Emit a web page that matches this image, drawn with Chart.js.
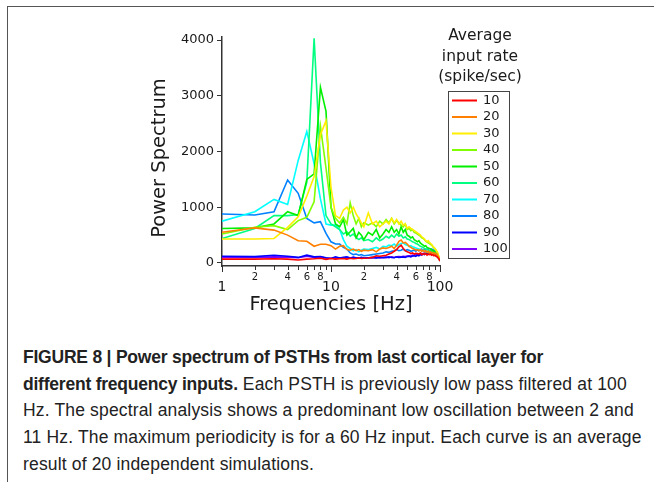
<!DOCTYPE html>
<html>
<head>
<meta charset="utf-8">
<script src="https://cdn.jsdelivr.net/npm/chart.js@4.4.0/dist/chart.umd.min.js"></script>
<style>
html, body { margin: 0; padding: 0; background: #fff; }
body { width: 654px; height: 482px; overflow: hidden; position: relative; }
#frame { position: absolute; left: 7px; top: 6px; right: -5px; bottom: -5px; border-left: 1px solid #555; border-top: 1px solid #555; }
#chart { position: absolute; left: 0; top: 0; }
#caption { position: absolute; left: 23px; top: 344px; font-family: "Liberation Sans", Arial, sans-serif; font-size: 17.5px; line-height: 26.7px; color: #222; white-space: nowrap; letter-spacing: 0.16px; }
#caption b { letter-spacing: -0.22px; }
</style>
</head>
<body>
<div id="frame"></div>
<canvas id="chart" width="654" height="330"></canvas>
<div id="caption">
<b>FIGURE 8 | Power spectrum of PSTHs from last cortical layer for</b><br>
<b>different frequency inputs.</b> Each PSTH is previously low pass filtered at 100<br>
Hz. The spectral analysis shows a predominant low oscillation between 2 and<br>
11 Hz. The maximum periodicity is for a 60 Hz input. Each curve is an average<br>
result of 20 independent simulations.
</div>
<script>
// frequency grid (Hz)
const freqs = [1,2,3,4,5,6,7,8,9,10,11,12,13,14,15,16,17,18,19,20,
  22,24,26,28,30,32,34,36,38,40,42,44,46,48,50,52,54,56,58,60,
  62,64,66,68,70,72,74,76,78,80,82,84,86,88,90,92,94,96,98,100];

const rateLabels = ["10","20","30","40","50","60","70","80","90","100"];
const rateColors = ["#ff0000","#ff8000","#ffee00","#80ff00","#00f000","#00ff80","#00ffff","#0080ff","#0000ff","#8000ff"];

const rate10 = [70,70,75,70,55,70,75,85,65,80,70,75,80,70,85,75,80,90,80,85,
  90,100,130,120,130, 140,160,180,210,240, 290,320,260,220,200, 190,170,180,160,175,
  170,160,180,150,165, 155,170,140,160,150, 160,140,150,130,140, 120,110,90,70,35];
const rate20 = [550,630,590,500,400,390,300,335,335,310,250,300,310,240,230,250,220,240,210,230,
  220,240,200,250,270, 260,280,300,260,320, 390,410,360,370,340, 300,280,260,250,230,
  240,220,240,210,230, 200,220,190,210,180, 200,170,190,160,180, 150,160,120,80,35];
const rate30 = [430,430,440,640,830,1200,1550,2300,2550,1350,850,800,950,1000,900,1000,880,800,720,650,
  900,700,750,650,700, 750,700,800,720,780, 700,750,680,700,620, 650,620,600,580,560,
  540,520,500,470,450, 430,400,380,400,370, 350,330,300,280,260, 230,200,160,100,40];
const rate40 = [520,640,670,600,760,820,1100,2450,1700,1000,800,720,820,700,1080,850,700,800,650,720,
  680,720,650,750,700, 780,720,800,700,760, 720,680,650,700,600, 620,580,600,550,540,
  520,500,480,450,440, 420,390,380,360,350, 330,320,290,270,250, 230,200,150,90,40];
const rate50 = [620,630,700,920,850,1500,1600,3150,2720,1000,700,650,780,500,560,620,450,550,500,420,
  550,500,600,450,520, 600,550,650,550,600, 520,650,550,600,500, 480,450,470,420,400,
  380,400,360,340,320, 300,310,280,270,260, 250,240,220,210,200, 180,160,130,80,40];
const rate60 = [440,620,850,850,870,1450,4030,1800,850,700,650,600,520,560,480,520,460,420,450,400,
  420,380,450,400,430, 480,450,500,460,520, 480,500,450,470,430, 420,400,380,370,350,
  340,320,300,290,280, 260,250,240,230,220, 210,220,200,190,180, 170,160,120,80,40];
const rate70 = [750,920,1140,1050,1840,2360,1780,1150,700,680,680,600,420,300,260,220,240,200,230,250,
  240,260,280,250,300, 290,320,310,340,300, 330,350,360,330,320, 300,310,290,280,270,
  260,250,240,230,220, 210,200,200,190,180, 180,170,160,150,140, 130,120,100,70,40];
const rate80 = [880,860,920,1490,1250,800,720,740,530,380,340,340,280,250,180,150,160,140,150,130,
  140,150,160,170,180, 200,190,210,220,240, 220,230,250,220,240, 230,210,220,230,210,
  240,220,230,250,220, 240,230,250,240,220, 230,250,240,230,210, 190,160,120,80,40];
const rate90 = [120,115,140,120,100,140,110,115,95,80,110,90,100,110,90,100,95,90,100,90,
  95,100,90,105,95, 100,110,100,95,110, 100,105,110,100,115, 120,110,125,130,120,
  140,130,150,140,160, 150,170,160,180,170, 190,180,200,190,210, 180,150,120,80,40];
const rate100 = [100,100,110,105,95,120,100,105,90,85,95,90,85,95,90,100,90,95,85,90,
  90,95,100,90,100, 105,95,110,100,110, 115,110,120,115,125, 130,125,140,135,150,
  145,160,155,170,165, 180,175,190,185,200, 195,210,200,215,205, 190,160,120,80,35];

const series = [rate10, rate20, rate30, rate40, rate50, rate60, rate70, rate80, rate90, rate100];

const yTicks = [0, 1000, 2000, 3000, 4000];
const xTicks = [1,2,3,4,5,6,7,8,9,10,20,30,40,50,60,70,80,90,100];
const xMajor = [1, 10, 100];
const xMinorLabels = [2,4,6,8,20,40,60,80];

const textColor = "#1a1a1a";
const axisColor = "#333";
const fontName = "DejaVu Sans";

const datasets = series.map((vals, i) => ({
  label: rateLabels[i],
  data: freqs.map((f, j) => ({x: f, y: vals[j]})),
  borderColor: rateColors[i],
  borderWidth: 1.6,
  pointRadius: 0,
  tension: 0,
  fill: false
}));

// axis ticks, titles and the boxed legend
const extras = {
  id: "extras",
  afterDraw(chart) {
    const ctx = chart.ctx;
    const x = chart.scales.x;
    const area = chart.chartArea;
    const bottom = area.bottom;
    ctx.save();
    ctx.strokeStyle = axisColor;
    ctx.lineWidth = 1;
    for (const v of xTicks) {
      const px = Math.round(x.getPixelForValue(v)) + 0.5;
      const len = xMajor.includes(v) ? 6 : 4;
      ctx.beginPath();
      ctx.moveTo(px, bottom);
      ctx.lineTo(px, bottom + len);
      ctx.stroke();
    }
    ctx.fillStyle = textColor;
    ctx.textAlign = "center";
    ctx.textBaseline = "middle";
    ctx.font = "10px '" + fontName + "'";
    for (const v of xMinorLabels) {
      ctx.fillText(String(v % 10 === 0 ? v / 10 : v), x.getPixelForValue(v), bottom + 11);
    }
    ctx.font = "14px '" + fontName + "'";
    for (const v of xMajor) {
      ctx.fillText(String(v), x.getPixelForValue(v), bottom + 21);
    }

    ctx.font = "19.5px '" + fontName + "'";
    ctx.fillText("Frequencies [Hz]", (area.left + area.right) / 2, 305);
    ctx.save();
    ctx.translate(160, 158);
    ctx.rotate(-Math.PI / 2);
    ctx.fillText("Power Spectrum", 0, 0);
    ctx.restore();

    // legend
    ctx.font = "15.5px '" + fontName + "'";
    ctx.fillText("Average", 480, 36);
    ctx.fillText("input rate", 480, 57);
    ctx.fillText("(spike/sec)", 480, 77);
    ctx.strokeStyle = "#444";
    ctx.strokeRect(448.5, 91.5, 61, 167);
    ctx.font = "13px '" + fontName + "'";
    ctx.textAlign = "left";
    chart.data.datasets.forEach((ds, i) => {
      const yy = 100.5 + i * 16.5;
      ctx.strokeStyle = ds.borderColor;
      ctx.lineWidth = 2;
      ctx.beginPath();
      ctx.moveTo(452, yy);
      ctx.lineTo(477, yy);
      ctx.stroke();
      ctx.fillStyle = textColor;
      ctx.fillText(ds.label, 483, yy);
    });
    ctx.restore();
  }
};

new Chart(document.getElementById("chart"), {
  type: "line",
  data: {datasets: datasets},
  options: {
    responsive: false,
    animation: false,
    devicePixelRatio: 1,
    layout: {padding: {left: 0, right: 214, top: 37, bottom: 0}},
    plugins: {legend: {display: false}, tooltip: {enabled: false}},
    scales: {
      x: {
        type: "logarithmic",
        min: 1,
        max: 100,
        afterFit: s => { s.height = 330 - 266; },
        afterBuildTicks: s => { s.ticks = xTicks.map(v => ({value: v})); },
        grid: {drawOnChartArea: false, drawTicks: false},
        border: {display: true, color: axisColor, width: 1.5},
        ticks: {display: false}
      },
      y: {
        min: -54,
        max: 4054,
        afterFit: s => { s.width = 222; },
        afterBuildTicks: s => { s.ticks = yTicks.map(v => ({value: v})); },
        grid: {drawOnChartArea: false, drawTicks: true, tickLength: 5, color: axisColor},
        border: {display: true, color: axisColor, width: 1.5},
        ticks: {
          font: {family: fontName, size: 13},
          color: textColor,
          padding: 3,
          callback: v => String(v)
        }
      }
    }
  },
  plugins: [extras]
});
</script>
</body>
</html>
